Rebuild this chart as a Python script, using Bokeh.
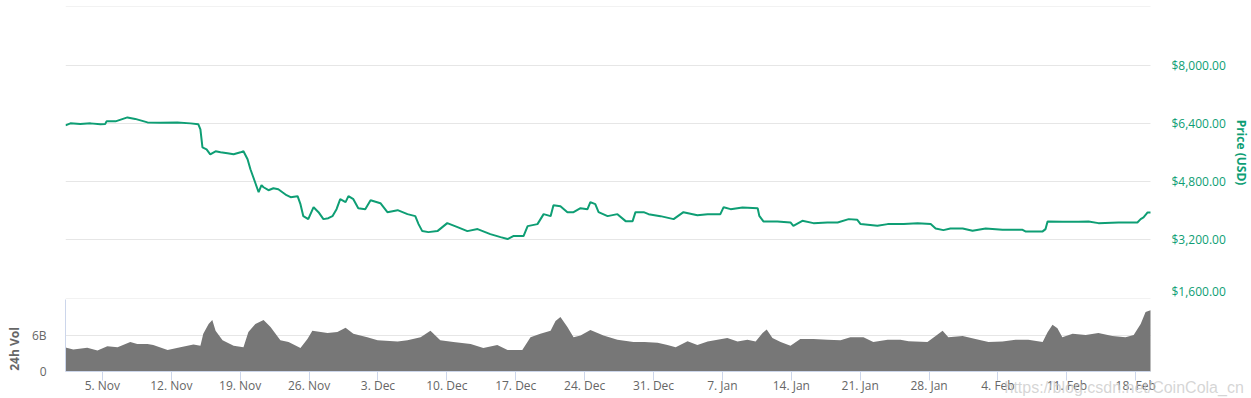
import pandas as pd
from bokeh.plotting import figure
from bokeh.layouts import column
from bokeh.models import Range1d, FixedTicker, NumeralTickFormatter, DatetimeTickFormatter, Label
from bokeh.embed import file_html
from bokeh.resources import INLINE

# ---------------- data ----------------
price_times = [
    "2018-11-01 06:00", "2018-11-01 18:00", "2018-11-02 18:00", "2018-11-03 19:00", "2018-11-04 19:00",
    "2018-11-05 07:00", "2018-11-05 10:00", "2018-11-06 08:00", "2018-11-07 13:00", "2018-11-08 08:00",
    "2018-11-09 14:00", "2018-11-10 21:00", "2018-11-12 15:00", "2018-11-13 23:00", "2018-11-14 18:00",
    "2018-11-14 23:00", "2018-11-15 04:00", "2018-11-15 14:00", "2018-11-15 23:00", "2018-11-16 12:00",
    "2018-11-17 00:00", "2018-11-17 17:00", "2018-11-18 08:00", "2018-11-19 01:00", "2018-11-19 08:00",
    "2018-11-19 18:00", "2018-11-20 01:00", "2018-11-20 08:00", "2018-11-20 21:00", "2018-11-21 04:00",
    "2018-11-21 09:00", "2018-11-21 21:00", "2018-11-22 09:00", "2018-11-22 21:00", "2018-11-23 07:00",
    "2018-11-23 17:00", "2018-11-24 03:00", "2018-11-24 20:00", "2018-11-25 03:00", "2018-11-25 10:00",
    "2018-11-25 22:00", "2018-11-26 11:00", "2018-11-26 23:00", "2018-11-27 11:00", "2018-11-27 23:00",
    "2018-11-28 09:00", "2018-11-28 19:00", "2018-11-29 04:00", "2018-11-29 17:00", "2018-11-30 00:00",
    "2018-11-30 12:00", "2018-12-01 00:00", "2018-12-01 17:00", "2018-12-02 06:00", "2018-12-03 06:00",
    "2018-12-03 23:00", "2018-12-05 00:00", "2018-12-06 00:00", "2018-12-06 19:00", "2018-12-07 03:00",
    "2018-12-07 12:00", "2018-12-08 03:00", "2018-12-09 01:00", "2018-12-10 01:00", "2018-12-11 02:00",
    "2018-12-12 02:00", "2018-12-13 03:00", "2018-12-14 10:00", "2018-12-15 11:00", "2018-12-16 04:00",
    "2018-12-16 18:00", "2018-12-17 19:00", "2018-12-18 05:00", "2018-12-19 05:00", "2018-12-19 20:00",
    "2018-12-20 13:00", "2018-12-20 20:00", "2018-12-21 13:00", "2018-12-22 06:00", "2018-12-22 21:00",
    "2018-12-23 14:00", "2018-12-24 07:00", "2018-12-24 14:00", "2018-12-25 02:00", "2018-12-25 10:00",
    "2018-12-26 08:00", "2018-12-27 08:00", "2018-12-28 04:00", "2018-12-28 21:00", "2018-12-29 04:00",
    "2018-12-30 00:00", "2018-12-30 12:00", "2018-12-31 17:00", "2019-01-02 01:00", "2019-01-03 01:00",
    "2019-01-04 11:00", "2019-01-05 12:00", "2019-01-06 19:00", "2019-01-07 03:00", "2019-01-07 20:00",
    "2019-01-09 01:00", "2019-01-10 14:00", "2019-01-10 18:00", "2019-01-11 04:00", "2019-01-12 14:00",
    "2019-01-13 22:00", "2019-01-14 05:00", "2019-01-15 03:00", "2019-01-16 06:00", "2019-01-17 16:00",
    "2019-01-18 17:00", "2019-01-19 20:00", "2019-01-20 17:00", "2019-01-21 01:00", "2019-01-22 18:00",
    "2019-01-23 19:00", "2019-01-25 10:00", "2019-01-26 20:00", "2019-01-28 04:00", "2019-01-28 16:00",
    "2019-01-29 11:00", "2019-01-30 04:00", "2019-01-31 10:00", "2019-02-01 10:00", "2019-02-02 18:00",
    "2019-02-04 11:00", "2019-02-06 12:00", "2019-02-06 19:00", "2019-02-08 13:00", "2019-02-08 20:00",
    "2019-02-09 01:00", "2019-02-10 13:00", "2019-02-12 04:00", "2019-02-13 05:00", "2019-02-14 05:00",
    "2019-02-16 06:00", "2019-02-18 04:00", "2019-02-18 12:00", "2019-02-18 19:00", "2019-02-19 05:00",
    "2019-02-19 12:00",
]
price_usd = [
    6345, 6400, 6386, 6400, 6373,
    6386, 6455, 6455, 6564, 6523,
    6427, 6414, 6427, 6400, 6373,
    6236, 5742, 5688, 5551, 5633,
    5605, 5578, 5551, 5605, 5633,
    5414, 5140, 4920, 4509, 4701,
    4646, 4564, 4619, 4592, 4509,
    4427, 4372, 4400, 4181, 3852,
    3770, 4098, 3961, 3770, 3797,
    3852, 4044, 4318, 4236, 4400,
    4318, 4071, 4044, 4290, 4208,
    3961, 4016, 3907, 3852, 3633,
    3441, 3413, 3441, 3660, 3550,
    3441, 3496, 3359, 3276, 3222,
    3304, 3304, 3578, 3633, 3907,
    3852, 4153, 4126, 3961, 3961,
    4071, 4044, 4236, 4181, 3961,
    3852, 3907, 3715, 3715, 3961,
    3961, 3907, 3852, 3770, 3961,
    3879, 3907, 3907, 4098, 4044,
    4090, 4071, 3860, 3707, 3707,
    3679, 3586, 3723, 3660, 3679,
    3679, 3770, 3750, 3633, 3586,
    3633, 3633, 3660, 3633, 3515,
    3468, 3515, 3515, 3449, 3515,
    3477, 3477, 3433, 3433, 3496,
    3707, 3696, 3696, 3707, 3660,
    3679, 3679, 3770, 3816, 3953,
    3953,
]

volume_times = [
    "2018-11-01 06:00", "2018-11-02 01:00", "2018-11-03 11:00", "2018-11-04 12:00", "2018-11-05 12:00",
    "2018-11-06 13:00", "2018-11-07 20:00", "2018-11-08 13:00", "2018-11-09 14:00", "2018-11-10 04:00",
    "2018-11-11 15:00", "2018-11-12 22:00", "2018-11-14 06:00", "2018-11-14 23:00", "2018-11-15 06:00",
    "2018-11-15 19:00", "2018-11-16 04:00", "2018-11-16 12:00", "2018-11-17 05:00", "2018-11-18 08:00",
    "2018-11-19 08:00", "2018-11-19 20:00", "2018-11-20 13:00", "2018-11-21 09:00", "2018-11-22 02:00",
    "2018-11-23 02:00", "2018-11-23 22:00", "2018-11-25 03:00", "2018-11-25 20:00", "2018-11-26 08:00",
    "2018-11-27 21:00", "2018-11-28 21:00", "2018-11-29 17:00", "2018-11-30 12:00", "2018-12-01 22:00",
    "2018-12-02 23:00", "2018-12-05 00:00", "2018-12-06 00:00", "2018-12-07 08:00", "2018-12-08 08:00",
    "2018-12-09 08:00", "2018-12-10 16:00", "2018-12-12 10:00", "2018-12-13 17:00", "2018-12-15 03:00",
    "2018-12-16 04:00", "2018-12-17 16:00", "2018-12-18 12:00", "2018-12-19 12:00", "2018-12-20 13:00",
    "2018-12-21 01:00", "2018-12-21 13:00", "2018-12-22 06:00", "2018-12-22 21:00", "2018-12-23 14:00",
    "2018-12-24 14:00", "2018-12-25 22:00", "2018-12-27 08:00", "2018-12-28 23:00", "2018-12-30 02:00",
    "2018-12-31 10:00", "2019-01-01 10:00", "2019-01-02 06:00", "2019-01-03 11:00", "2019-01-04 11:00",
    "2019-01-05 12:00", "2019-01-06 12:00", "2019-01-07 12:00", "2019-01-08 13:00", "2019-01-09 13:00",
    "2019-01-10 09:00", "2019-01-11 02:00", "2019-01-11 12:00", "2019-01-12 02:00", "2019-01-12 22:00",
    "2019-01-13 22:00", "2019-01-14 22:00", "2019-01-16 06:00", "2019-01-17 16:00", "2019-01-19 00:00",
    "2019-01-20 00:00", "2019-01-21 08:00", "2019-01-22 08:00", "2019-01-23 19:00", "2019-01-25 02:00",
    "2019-01-25 22:00", "2019-01-27 20:00", "2019-01-28 16:00", "2019-01-29 09:00", "2019-01-29 23:00",
    "2019-01-31 10:00", "2019-02-01 17:00", "2019-02-03 01:00", "2019-02-04 11:00", "2019-02-05 19:00",
    "2019-02-07 02:00", "2019-02-08 13:00", "2019-02-09 01:00", "2019-02-09 13:00", "2019-02-10 01:00",
    "2019-02-10 13:00", "2019-02-11 14:00", "2019-02-12 22:00", "2019-02-14 05:00", "2019-02-15 15:00",
    "2019-02-16 23:00", "2019-02-17 19:00", "2019-02-18 12:00", "2019-02-19 00:00", "2019-02-19 12:00",
]
volume_bn = [
    4.0, 3.67, 3.94, 3.5, 4.2,
    4.06, 4.9, 4.6, 4.6, 4.4,
    3.6, 4.05, 4.5, 4.3, 6.3,
    7.9, 8.6, 6.8, 5.2, 4.3,
    4.05, 6.6, 7.9, 8.6, 7.4,
    5.2, 4.9, 3.9, 5.4, 6.8,
    6.4, 6.6, 7.3, 6.3, 5.7,
    5.2, 5.0, 5.2, 5.7, 6.8,
    5.2, 4.9, 4.6, 3.9, 4.4,
    3.6, 3.6, 5.7, 6.3, 6.8,
    8.4, 9.1, 7.4, 5.7, 6.0,
    6.9, 6.0, 5.3, 4.9, 4.9,
    4.8, 4.4, 4.05, 5.05, 4.4,
    5.0, 5.3, 5.6, 5.0, 5.3,
    5.0, 6.4, 7.0, 5.6, 4.9,
    4.3, 5.4, 5.4, 5.3, 5.2,
    5.7, 5.7, 4.9, 5.3, 5.3,
    5.05, 4.9, 5.9, 6.8, 5.7,
    5.9, 5.4, 4.9, 5.0, 5.3,
    5.3, 4.9, 6.55, 7.8, 7.2,
    5.7, 6.3, 6.1, 6.4, 5.9,
    5.7, 6.1, 7.9, 9.9, 10.2,
]

x_tick_dates = ["2018-11-05", "2018-11-12", "2018-11-19", "2018-11-26", "2018-12-03", "2018-12-10",
                "2018-12-17", "2018-12-24", "2018-12-31", "2019-01-07", "2019-01-14", "2019-01-21",
                "2019-01-28", "2019-02-04", "2019-02-11", "2019-02-18"]
price_ticks = [1600, 3200, 4800, 6400, 8000]
price_grid = [1600, 3200, 4800, 6400, 8000, 9600]
volume_ticks = [0, 6]
volume_grid = [6]
volume_tick_labels = {0: "0", 6: "6B"}
watermark = "https://blog.csdn.net/CoinCola_cn"
watermark_at = ("2019-02-04 16:00", -2.7)

# ---------------- style ----------------
FONT = "Open Sans"
GREEN = "#0e9e74"
GRAY_TXT = "#666666"
GRID = "#e6e6e6"
AXIS = "#ccd6eb"
VOL = "#777777"
W = 1251
LEFT = 65
RIGHT = 101   # space right of the plotting area that holds the price axis


def ms(t):
    return pd.Timestamp(t).value / 1e6


pt = pd.to_datetime(price_times)
vt = pd.to_datetime(volume_times)
x0, x1 = ms(pt[0]), ms(pt[-1])
# both frames run to the right edge of the canvas; the time range is stretched so the data
# ends RIGHT pixels before the edge, and the price axis is pinned at the data end
frame_data_w = W - LEFT - RIGHT
frame_w = W - LEFT
xr = Range1d(x0, x0 + (x1 - x0) * (frame_w / frame_data_w))

# ---------------- price pane ----------------
p1 = figure(width=W, height=299, x_axis_type="datetime", x_range=xr, y_range=Range1d(1590, 9610),
            x_axis_location=None, y_axis_location="right", output_backend="svg", toolbar_location=None,
            min_border_left=LEFT, min_border_right=0, min_border_top=6, min_border_bottom=1)
p1.outline_line_color = None
p1.xgrid.visible = False
pgrid = p1.ygrid[0]
pgrid.ticker = FixedTicker(ticks=price_grid)
pgrid.grid_line_color = GRID
pgrid.cross_bounds = (x0, x1)
ya = p1.yaxis[0]
ya.fixed_location = x1
ya.ticker = FixedTicker(ticks=price_ticks)
ya.formatter = NumeralTickFormatter(format="$0,0.00")
ya.axis_line_color = None
ya.major_tick_line_color = None
ya.minor_tick_line_color = None
ya.major_label_standoff = 15
ya.major_label_text_font = FONT
ya.major_label_text_font_size = "12px"
ya.major_label_text_color = GREEN
ya.axis_label = "Price (USD)"
ya.axis_label_text_font = FONT
ya.axis_label_text_font_size = "12px"
ya.axis_label_text_font_style = "bold"
ya.axis_label_text_color = GREEN
ya.axis_label_standoff = 4
p1.line(pt, price_usd, line_color=GREEN, line_width=2)

# ---------------- volume pane ----------------
p2 = figure(width=W, height=99, x_axis_type="datetime", x_range=xr, y_range=Range1d(-4.5, 12),
            output_backend="svg", toolbar_location=None,
            min_border_left=LEFT, min_border_right=0, min_border_top=0, min_border_bottom=0)
p2.outline_line_color = None
p2.xgrid.visible = False
vgrid = p2.ygrid[0]
vgrid.ticker = FixedTicker(ticks=volume_grid)
vgrid.grid_line_color = GRID
vgrid.cross_bounds = (x0, x1)
p2.varea(x=vt, y1=0, y2=volume_bn, fill_color=VOL)

xa = p2.xaxis[0]
xa.fixed_location = 0
xa.bounds = (x0, x1)
xa.ticker = FixedTicker(ticks=[ms(d) for d in x_tick_dates])
fmt = "%-d. %b"
xa.formatter = DatetimeTickFormatter(microseconds=fmt, milliseconds=fmt, seconds=fmt, minsec=fmt,
                                     minutes=fmt, hourmin=fmt, hours=fmt, days=fmt, months=fmt, years=fmt)
xa.axis_line_color = AXIS
xa.major_tick_line_color = AXIS
xa.major_tick_out = 9
xa.major_tick_in = 0
xa.minor_tick_line_color = None
xa.major_label_standoff = -4
xa.major_label_text_font = FONT
xa.major_label_text_font_size = "12px"
xa.major_label_text_color = GRAY_TXT

va = p2.yaxis[0]
va.bounds = (0, 12)
va.ticker = FixedTicker(ticks=volume_ticks)
va.major_label_overrides = volume_tick_labels
va.axis_line_color = AXIS
va.major_tick_line_color = None
va.minor_tick_line_color = None
va.major_label_standoff = 13
va.major_label_text_font = FONT
va.major_label_text_font_size = "12px"
va.major_label_text_color = GRAY_TXT
va.axis_label = "24h Vol"
va.axis_label_text_font = FONT
va.axis_label_text_font_size = "12px"
va.axis_label_text_font_style = "bold"
va.axis_label_text_color = GRAY_TXT
va.axis_label_standoff = 6

p2.add_layout(Label(x=ms(watermark_at[0]), y=watermark_at[1], text=watermark, level="overlay",
                    text_font="Liberation Sans", text_font_size="16px", text_color="#c8c8c8",
                    text_alpha=0.75, text_baseline="alphabetic"))

layout = column(p1, p2, spacing=0)
open("out.html", "w").write(file_html(layout, INLINE))
